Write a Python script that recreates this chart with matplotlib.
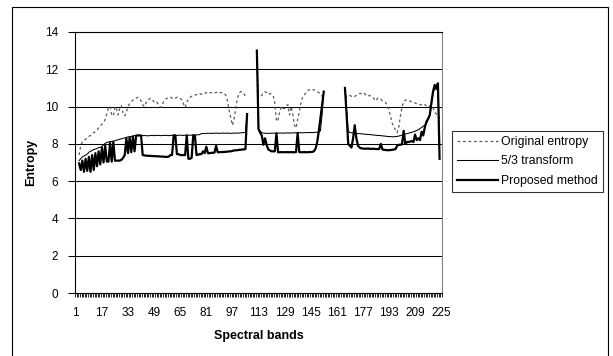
import numpy as np
import matplotlib
matplotlib.use("Agg")
import matplotlib.pyplot as plt
from matplotlib.patches import Rectangle

plt.rcParams["font.family"] = ["Liberation Sans", "DejaVu Sans"]

n_bands = 225
tick_bands = list(range(1, 226, 16))
y_ticks = [0, 2, 4, 6, 8, 10, 12, 14]

# band ranges that carry data (water absorption bands left out)
segments = [(3, 106), (112, 153), (166, 224)]

original_entropy = [
    # bands 3-106
    7.4, 7.9, 8.1, 8.2, 8.25, 8.3, 8.4, 8.45, 8.55, 8.6,
    8.65, 8.75, 8.85, 8.95, 9.05, 9.15, 9.3, 9.6, 9.95, 10.0,
    9.55, 9.5, 10.0, 9.85, 9.55, 9.95, 10.05, 9.6, 9.5, 9.7,
    10.0, 10.15, 10.25, 10.35, 10.4, 10.45, 10.5, 10.45, 10.3, 10.1,
    10.0, 10.2, 10.35, 10.4, 10.45, 10.35, 10.25, 10.3, 10.2, 10.05,
    9.95, 10.1, 10.3, 10.4, 10.45, 10.45, 10.5, 10.45, 10.5, 10.45,
    10.5, 10.5, 10.45, 10.35, 10.15, 9.95, 10.2, 10.4, 10.5, 10.55,
    10.6, 10.6, 10.65, 10.65, 10.7, 10.65, 10.7, 10.7, 10.75, 10.7,
    10.75, 10.75, 10.7, 10.75, 10.75, 10.8, 10.75, 10.75, 10.75, 10.7,
    10.6, 10.3, 9.8, 9.4, 9.0, 9.3, 9.9, 10.4, 10.7, 10.8,
    10.8, 10.7, 10.55, 10.6,
    # bands 112-153
    13.0, 10.5, 10.55, 10.6, 10.75, 10.8, 10.75, 10.65, 10.7, 10.65,
    10.6, 10.2, 9.2, 9.3, 9.7, 10.0, 9.9, 9.9, 10.05, 10.1,
    9.55, 10.0, 9.6, 9.0, 8.85, 9.3, 9.7, 10.2, 10.5, 10.6,
    10.75, 10.85, 10.9, 10.85, 10.9, 10.9, 10.85, 10.8, 10.75, 10.7,
    10.55, 10.7,
    # bands 166-224
    10.9, 10.5, 10.55, 10.6, 10.55, 10.5, 10.55, 10.6, 10.65, 10.7,
    10.7, 10.65, 10.7, 10.6, 10.55, 10.6, 10.55, 10.5, 10.4, 10.3,
    10.45, 10.45, 10.4, 10.3, 10.25, 10.2, 10.1, 9.8, 9.45, 9.1,
    8.9, 8.75, 8.6, 8.9, 9.5, 10.0, 10.25, 10.35, 10.35, 10.3,
    10.3, 10.25, 10.2, 10.2, 10.15, 10.15, 10.1, 10.1, 10.05, 10.1,
    10.05, 10.1, 10.0, 10.05, 9.95, 9.7, 9.6, 9.5, 9.3,
]

transform_53 = [
    # bands 3-106
    7.1, 7.2, 7.3, 7.35, 7.4, 7.45, 7.55, 7.6, 7.65, 7.7,
    7.72, 7.75, 7.8, 7.82, 7.85, 7.95, 8.03, 8.07, 8.1, 8.12,
    8.13, 8.15, 8.17, 8.2, 8.22, 8.25, 8.27, 8.3, 8.32, 8.35,
    8.37, 8.38, 8.4, 8.42, 8.44, 8.45, 8.45, 8.46, 8.45, 8.44,
    8.45, 8.44, 8.43, 8.44, 8.45, 8.45, 8.44, 8.45, 8.46, 8.45,
    8.44, 8.45, 8.45, 8.46, 8.45, 8.44, 8.45, 8.46, 8.47, 8.46,
    8.45, 8.46, 8.47, 8.46, 8.45, 8.46, 8.47, 8.47, 8.46, 8.47,
    8.48, 8.47, 8.48, 8.49, 8.5, 8.55, 8.56, 8.55, 8.56, 8.57,
    8.56, 8.57, 8.56, 8.57, 8.58, 8.57, 8.56, 8.57, 8.58, 8.57,
    8.57, 8.58, 8.57, 8.56, 8.57, 8.58, 8.57, 8.58, 8.58, 8.59,
    8.6, 8.6, 8.62, 9.6,
    # bands 112-153
    13.0, 8.8, 8.7, 8.6, 8.58, 8.57, 8.57, 8.56, 8.57, 8.57,
    8.57, 8.58, 8.57, 8.57, 8.58, 8.58, 8.57, 8.58, 8.59, 8.58,
    8.58, 8.59, 8.58, 8.59, 8.6, 8.59, 8.6, 8.6, 8.59, 8.6,
    8.6, 8.61, 8.6, 8.61, 8.6, 8.61, 8.62, 8.62, 8.63, 8.7,
    9.6, 10.8,
    # bands 166-224
    11.0, 9.8, 8.7, 8.6, 8.6, 8.58, 8.57, 8.56, 8.55, 8.55,
    8.54, 8.53, 8.52, 8.51, 8.5, 8.5, 8.49, 8.48, 8.47, 8.46,
    8.45, 8.45, 8.44, 8.43, 8.42, 8.41, 8.4, 8.39, 8.39, 8.38,
    8.38, 8.39, 8.4, 8.42, 8.44, 8.47, 8.5, 8.52, 8.55, 8.57,
    8.6, 8.62, 8.65, 8.68, 8.72, 8.76, 8.82, 8.88, 8.95, 9.0,
    9.1, 9.3, 9.5, 10.1, 10.7, 11.0, 10.9, 11.1, 8.2,
]

proposed = [
    # bands 3-106
    6.95, 6.6, 7.1, 6.5, 7.2, 6.55, 7.3, 6.5, 7.4, 6.6,
    7.5, 6.8, 7.6, 6.9, 7.8, 7.0, 7.9, 7.05, 7.05, 8.05,
    7.05, 8.1, 7.1, 7.1, 7.1, 7.1, 7.15, 7.25, 7.4, 8.3,
    7.5, 8.35, 7.55, 8.4, 7.6, 8.45, 8.45, 8.45, 8.45, 7.4,
    7.38, 7.37, 7.36, 7.36, 7.35, 7.35, 7.34, 7.34, 7.33, 7.33,
    7.32, 7.32, 7.31, 7.3, 7.3, 7.32, 7.4, 7.4, 8.45, 8.45,
    7.45, 7.45, 7.4, 7.4, 7.4, 7.4, 8.45, 7.2, 7.2, 7.25,
    8.45, 8.45, 7.4, 7.42, 7.45, 7.45, 7.6, 7.5, 7.85, 7.5,
    7.5, 7.52, 7.52, 7.53, 7.9, 7.55, 7.55, 7.56, 7.56, 7.57,
    7.57, 7.58, 7.6, 7.6, 7.62, 7.65, 7.65, 7.66, 7.68, 7.68,
    7.7, 7.7, 7.72, 9.6,
    # bands 112-153
    13.0, 8.8, 8.6, 8.45, 7.95, 8.3, 7.95, 7.7, 7.65, 7.6,
    7.6, 7.6, 8.57, 7.55, 7.55, 7.56, 7.55, 7.55, 7.56, 7.55,
    7.55, 7.56, 7.55, 7.55, 7.56, 8.58, 7.56, 7.55, 7.55, 7.56,
    7.55, 7.55, 7.56, 7.56, 7.57, 7.6, 7.75, 8.1, 8.7, 9.4,
    10.1, 10.8,
    # bands 166-224
    11.0, 9.6, 8.0, 7.9, 7.8, 8.3, 9.0, 8.3, 7.9, 7.8,
    7.76, 7.75, 7.74, 7.74, 7.75, 7.74, 7.73, 7.74, 7.73, 7.72,
    7.72, 7.73, 8.0, 7.7, 7.68, 7.67, 7.66, 7.66, 7.67, 7.68,
    7.7, 7.72, 7.9, 7.95, 7.95, 7.98, 8.7, 8.0, 8.1, 8.1,
    8.12, 8.15, 8.1, 8.5, 8.2, 8.3, 8.2, 8.65, 8.45, 8.9,
    9.2, 9.35, 9.55, 10.2, 10.8, 11.16, 11.0, 11.25, 7.2,
]


def spread(values):
    # put segment values onto the full band axis, gaps stay NaN
    full = np.full(n_bands, np.nan)
    i = 0
    for start, end in segments:
        count = end - start + 1
        full[start - 1:end] = values[i:i + count]
        i += count
    return full


bands = np.arange(1, n_bands + 1)
W, H = 613, 356
fig = plt.figure(figsize=(W / 100, H / 100), dpi=100)
ax = fig.add_axes([75 / W, (H - 293) / H, 367 / W, 261 / H])

ax.plot(bands, spread(original_entropy), color="#5a5a5a", lw=0.9,
        dashes=(2.2, 2.2), label="Original entropy", zorder=3)
ax.plot(bands, spread(transform_53), color="black", lw=0.75,
        label="5/3 transform", zorder=4)
ax.plot(bands, spread(proposed), color="black", lw=1.6,
        label="Proposed method", zorder=5)

ax.set_xlim(0.5, n_bands + 0.5)
ax.set_ylim(0, 14)
ax.set_yticks(y_ticks)
ax.set_yticklabels([str(v) for v in y_ticks], fontsize=8.5)
ax.yaxis.grid(True, color="black", lw=0.75)
ax.set_axisbelow(True)

ax.set_xticks(tick_bands)
ax.set_xticklabels([str(b) for b in tick_bands], fontsize=8.5)
ax.set_xticks(np.arange(0.5, n_bands + 1, 1), minor=True)
ax.tick_params(axis="x", which="major", length=0, pad=10)
ax.tick_params(axis="x", which="minor", length=3, width=0.6, direction="out")
ax.tick_params(axis="y", length=5, width=0.75, pad=7)

for side in ["left", "bottom", "top"]:
    ax.spines[side].set_color("black")
    ax.spines[side].set_linewidth(0.8)
ax.spines["right"].set_color("#808080")
ax.spines["right"].set_linewidth(0.8)

ax.set_ylabel("Entropy", fontsize=9, fontweight="bold", labelpad=6)
ax.set_xlabel("Spectral bands", fontsize=9, fontweight="bold", labelpad=8)

leg = ax.legend(loc="upper left", bbox_to_anchor=(452 / W, 1 - 131 / H),
                bbox_transform=fig.transFigure, borderaxespad=0,
                fontsize=8.8, frameon=True, fancybox=False, handlelength=3.4,
                handletextpad=0.2, labelspacing=0.62, borderpad=0.4)
leg.get_frame().set_edgecolor("black")
leg.get_frame().set_linewidth(0.8)

# chart area border
fig.patches.append(Rectangle((12 / W, -0.05), 596 / W, 1.05 - 7 / H,
                             transform=fig.transFigure, fill=False,
                             edgecolor="black", lw=0.8))

fig.savefig("out.png", dpi=100, facecolor="white")
